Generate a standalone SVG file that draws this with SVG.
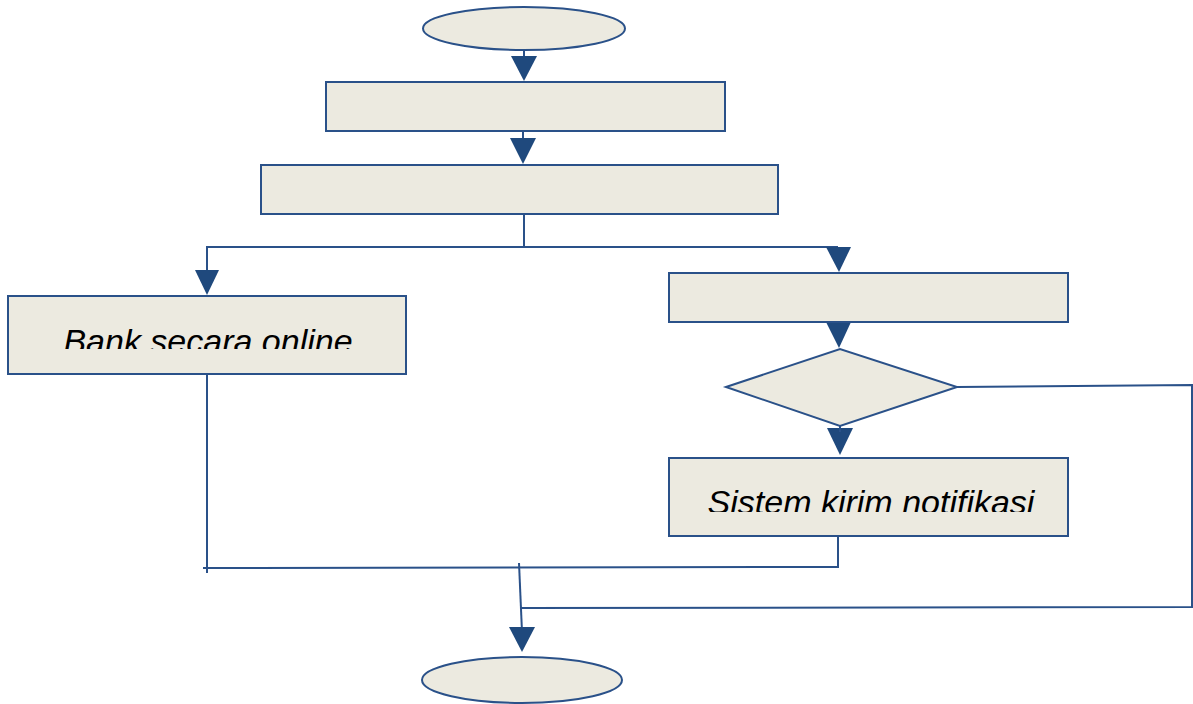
<svg xmlns="http://www.w3.org/2000/svg" width="1193" height="704" viewBox="0 0 1193 704">
<style>
.shape{fill:#ECEAE0;stroke:#2A5189;stroke-width:2}
.ln{fill:none;stroke:#2A5189;stroke-width:2}
.ah{fill:#1F497D}
.lbl{font-family:"Liberation Sans",Arial,sans-serif;font-style:italic;font-size:34px;fill:#000;text-anchor:middle}
</style>
<defs>
<clipPath id="c1"><rect x="0" y="300" width="420" height="49"/></clipPath>
<clipPath id="c2"><rect x="660" y="460" width="420" height="52"/></clipPath>
</defs>
<rect width="1193" height="704" fill="#fff"/>
<g id="connectors">
<line class="ln" x1="524" y1="50" x2="524" y2="60"/>
<polygon class="ah" points="511,56 537,56 524,81"/>
<line class="ln" x1="523" y1="131" x2="523" y2="142"/>
<polygon class="ah" points="510,138 536,138 523,164"/>
<polyline class="ln" points="524,214 524,247 207,247 207,272"/>
<polygon class="ah" points="195,270 219,270 207,295"/>
<line class="ln" x1="524" y1="247" x2="838" y2="247"/>
<polygon class="ah" points="826,247 851,247 839,272"/>
<line class="ln" x1="838" y1="322" x2="838" y2="328"/>
<polygon class="ah" points="826,322 851,322 839,348"/>
<polygon class="ah" points="827,428 853,428 840,455"/>
<line class="ln" x1="840" y1="426" x2="840" y2="432"/>
<polyline class="ln" points="957,387 1192,385 1192,607 521,608"/>
<polyline class="ln" points="207,374 207,573"/>
<polyline class="ln" points="838,537 838,567 203,568"/>
<line class="ln" x1="519" y1="563" x2="522" y2="632"/>
<polygon class="ah" points="509,627 535,627 522,652"/>
</g>
<g id="start"><ellipse class="shape" cx="524" cy="28.5" rx="101" ry="21.5"/></g>
<g id="box1"><rect class="shape" x="326" y="82" width="399" height="49"/></g>
<g id="box2"><rect class="shape" x="261" y="165" width="517" height="49"/></g>
<g id="box3"><rect class="shape" x="8" y="296" width="398" height="78"/>
<text class="lbl" x="208" y="353" clip-path="url(#c1)">Bank secara online</text></g>
<g id="box4"><rect class="shape" x="669" y="273" width="399" height="49"/></g>
<g id="decision"><polygon class="shape" points="726,387 840,349 957,387 840,426"/></g>
<g id="box5"><rect class="shape" x="669" y="458" width="399" height="78"/>
<text class="lbl" x="871" y="514" clip-path="url(#c2)">Sistem kirim notifikasi</text></g>
<g id="end"><ellipse class="shape" cx="522" cy="680" rx="100" ry="23"/></g>
</svg>
